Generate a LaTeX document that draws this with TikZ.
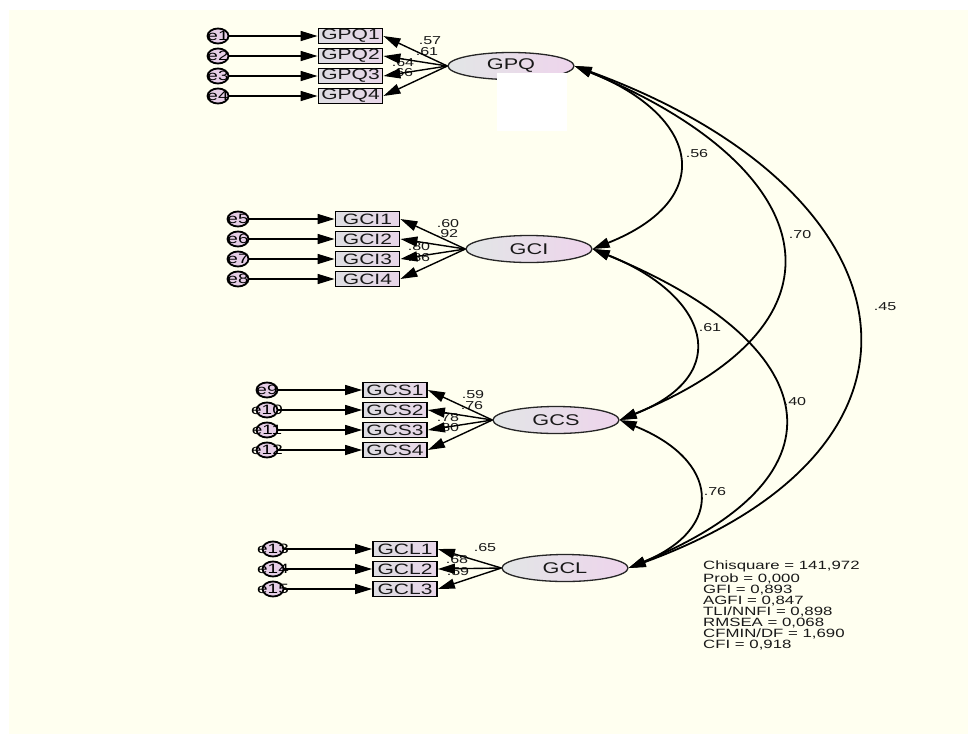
\documentclass[tikz,border=0pt]{standalone}
\usepackage{fontspec}
\setmainfont{Liberation Sans}[FakeStretch=1.4]
\usetikzlibrary{arrows.meta,shapes.geometric}
\definecolor{cream}{RGB}{255,255,240}
\definecolor{latA}{RGB}{226,230,230}
\definecolor{latB}{RGB}{238,212,236}
\definecolor{boxA}{RGB}{222,222,226}
\definecolor{boxB}{RGB}{232,214,232}
\definecolor{errfill}{RGB}{230,206,230}
\definecolor{txt}{RGB}{25,25,25}
\tikzset{
  latent/.style={ellipse, draw=black!85, line width=1.3pt, left color=latA, right color=latB,
    minimum width=126pt, minimum height=27pt, inner sep=0pt, text=txt,
    font=\fontsize{15.5}{18}\selectfont},
  obsbox/.style={rectangle, draw=black, line width=1.8pt, left color=boxA, right color=boxB,
    minimum width=64pt, minimum height=15pt, inner sep=0pt, text=txt,
    font=\fontsize{15}{16}\selectfont},
  errnode/.style={ellipse, draw=black, line width=1.8pt, fill=errfill,
    minimum width=21pt, minimum height=15pt, inner sep=0pt},
  errlabel/.style={font=\fontsize{13.5}{15}\selectfont, inner sep=0pt, text=black},
  coef/.style={font=\fontsize{11.5}{13}\selectfont, inner sep=0pt, text=txt},
  pathar/.style={line width=1.4pt, draw=black, -{Triangle[length=17pt,width=10pt]}},
  cov/.style={line width=1.8pt, draw=black,
    {Triangle[length=17pt,width=10pt]}-{Triangle[length=17pt,width=10pt]}},
}
\begin{document}
\begin{tikzpicture}[x=1pt,y=-1pt]
\useasboundingbox (0,0) rectangle (968,734);
\fill[white] (0,0) rectangle (968,734);
\fill[cream] (9,10) rectangle (968,734);

% latent variables
\node[latent] (GPQ) at (511,66) {GPQ};
\node[latent] (GCI) at (529,249) {GCI};
\node[latent] (GCS) at (556,420) {GCS};
\node[latent] (GCL) at (565,568) {GCL};

% cover rectangle
\fill[white] (497,73) rectangle (567,131);

% observed boxes
\node[obsbox] (GPQ1) at (350.5,36) {GPQ1};
\node[obsbox] (GPQ2) at (350.5,56) {GPQ2};
\node[obsbox] (GPQ3) at (350.5,76) {GPQ3};
\node[obsbox] (GPQ4) at (350.5,96) {GPQ4};
\node[obsbox] (GCI1) at (367.5,219) {GCI1};
\node[obsbox] (GCI2) at (367.5,239) {GCI2};
\node[obsbox] (GCI3) at (367.5,259) {GCI3};
\node[obsbox] (GCI4) at (367.5,279) {GCI4};
\node[obsbox] (GCS1) at (395,390) {GCS1};
\node[obsbox] (GCS2) at (395,410) {GCS2};
\node[obsbox] (GCS3) at (395,430) {GCS3};
\node[obsbox] (GCS4) at (395,450) {GCS4};
\node[obsbox] (GCL1) at (405,549) {GCL1};
\node[obsbox] (GCL2) at (405,569) {GCL2};
\node[obsbox] (GCL3) at (405,589) {GCL3};

% error terms
\foreach \n/\x/\y/\b in {1/218/36/GPQ1,2/218/56/GPQ2,3/218/76/GPQ3,4/218/96/GPQ4,
  5/238/219/GCI1,6/238/239/GCI2,7/238/259/GCI3,8/238/279/GCI4,
  9/267/390/GCS1,10/267/410/GCS2,11/267/430/GCS3,12/267/450/GCS4,
  13/273/549/GCL1,14/273/569/GCL2,15/273/589/GCL3}{
  \node[errnode] (e\n) at (\x,\y) {};
  \node[errlabel] (e\n t) at (e\n) {e\n};
  \draw[pathar] (e\n) -- (\b);
}

% loading labels
\node[coef] (l1) at (430,41) {.57};
\node[coef] (l2) at (427,52) {.61};
\node[coef] (l3) at (403,63) {.64};
\node[coef] (l4) at (402,73) {.66};
\node[coef] (l5) at (448,224) {.60};
\node[coef] (l6) at (447,234) {.92};
\node[coef] (l7) at (419,247) {.80};
\node[coef] (l8) at (419,258) {.86};
\node[coef] (l9) at (473,395) {.59};
\node[coef] (l10) at (472,406) {.76};
\node[coef] (l11) at (448,418) {.78};
\node[coef] (l12) at (448,428) {.80};
\node[coef] (l13) at (485,548) {.65};
\node[coef] (l14) at (457,560) {.68};
\node[coef] (l15) at (458,572) {.59};

% loadings
\foreach \f/\b in {GPQ/GPQ1,GPQ/GPQ2,GPQ/GPQ3,GPQ/GPQ4,GCI/GCI1,GCI/GCI2,GCI/GCI3,GCI/GCI4,
  GCS/GCS1,GCS/GCS2,GCS/GCS3,GCS/GCS4,GCL/GCL1,GCL/GCL2,GCL/GCL3}{
  \draw[pathar] (\f.west) -- (\b.east);
}

% covariances
\draw[cov] (GPQ.east) .. controls (700,116) and (718,199) .. (GCI.east);
\draw[cov] (GPQ.east) .. controls (818,166) and (864,320) .. (GCS.east);
\draw[cov] (GPQ.east) .. controls (914,190) and (967,444) .. (GCL.east);
\draw[cov] (GCI.east) .. controls (708,295) and (736,374) .. (GCS.east);
\draw[cov] (GCI.east) .. controls (822,343) and (857,474) .. (GCL.east);
\draw[cov] (GCS.east) .. controls (719,460) and (726,528) .. (GCL.east);

\node[coef] (c1) at (697,154) {.56};
\node[coef] (c2) at (800,235) {.70};
\node[coef] (c3) at (885,307) {.45};
\node[coef] (c4) at (710,328) {.61};
\node[coef] (c5) at (795,402) {.40};
\node[coef] (c6) at (715,492) {.76};

% fit statistics
\node[anchor=north west, align=left, inner sep=0pt, text=txt,
  font=\fontsize{12}{11}\selectfont] (fit) at (703,561)
  {Chisquare = 141,972\\Prob = 0,000\\GFI = 0,893\\AGFI = 0,847\\TLI/NNFI = 0,898\\RMSEA = 0,068\\CFMIN/DF = 1,690\\CFI = 0,918};
\end{tikzpicture}
\end{document}
